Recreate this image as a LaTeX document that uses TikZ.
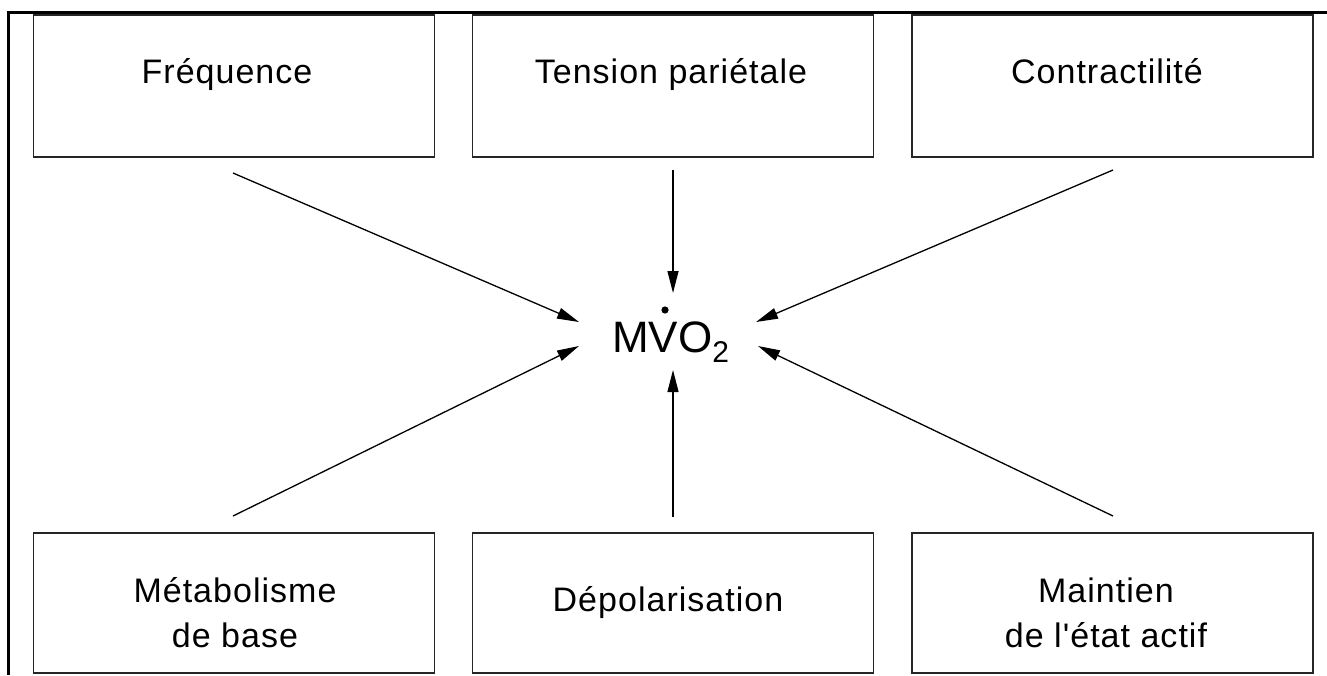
\documentclass[tikz,border=0pt]{standalone}
\usepackage{fontspec}
\setmainfont{Liberation Sans}
\newfontfamily\boxfont{Liberation Sans}[LetterSpace=3]
\usetikzlibrary{arrows.meta}

\begin{document}
\begin{tikzpicture}[x=1pt,y=-1pt,
  box/.style={draw=black!85, line width=1.5pt, minimum width=401pt,
    minimum height=#1, inner sep=0pt},
  box/.default=142pt,
  lbl/.style={font=\boxfont\fontsize{34}{45}\selectfont, anchor=base,
    inner sep=0pt, align=center},
  feed/.style={line width=1.3pt, -{Triangle[length=22pt,width=11pt]}}]
\useasboundingbox (0,0) rectangle (1327,675);

% outer frame (top and left edges)
\draw[line width=3pt] (8,675) -- (8,12) -- (1327,12);

% upper row of factors
\node[box] (freq) at (234,86) {};
\node[box] (tens) at (673,86) {};
\node[box] (cont) at (1112.5,86) {};
\node[lbl] (tfreq) at (227,83) {Fréquence};
\node[lbl] (ttens) at (671,83) {Tension pariétale};
\node[lbl] (tcont) at (1107,83) {Contractilité};

% lower row of factors (base anchor = last line of a two-line label)
\node[box=140pt] (meta) at (234,603) {};
\node[box=140pt] (depo) at (673,603) {};
\node[box=140pt] (main) at (1112.5,603) {};
\node[lbl] (tmeta) at (235,647) {Métabolisme\\de base};
\node[lbl] (tdepo) at (668,611) {Dépolarisation};
\node[lbl] (tmain) at (1106,647) {Maintien\\de l'état actif};

% central quantity: MVO2 with a dot over the V
\node[anchor=base west, inner sep=0pt, font=\fontsize{44}{44}\selectfont]
  (mvo) at (612,352) {MVO\raisebox{-10pt}{\fontsize{30}{30}\selectfont 2}};
\fill (665,310) circle (3.6pt);

% arrow ends
\coordinate (a1) at (233,173);  \coordinate (b1) at (579,322);
\coordinate (a2) at (673,170);  \coordinate (b2) at (673,293);
\coordinate (a3) at (1113,170); \coordinate (b3) at (756,322);
\coordinate (a4) at (233,516);  \coordinate (b4) at (579,346);
\coordinate (a5) at (673,517);  \coordinate (b5) at (673,370);
\coordinate (a6) at (1113,516); \coordinate (b6) at (758,346);

\foreach \i in {1,...,6} \draw[feed] (a\i) -- (b\i);
\end{tikzpicture}
\end{document}
